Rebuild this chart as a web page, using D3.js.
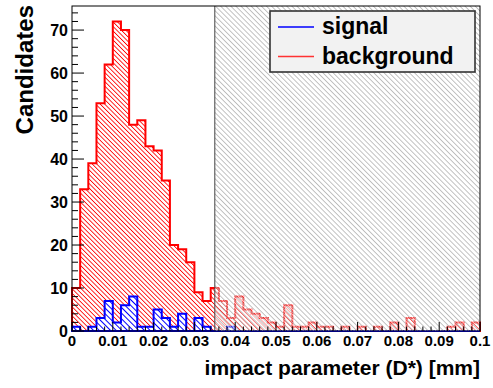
<!DOCTYPE html>
<html><head><meta charset="utf-8">
<script src="https://cdn.jsdelivr.net/npm/d3@7"></script>
<style>body{margin:0;background:#fff}svg{display:block}text{font-family:"Liberation Sans",Arial,sans-serif;font-weight:bold}</style>
</head><body>
<script>
const binWidth = 0.002;
const binStarts = d3.range(50).map(i => +(i * binWidth).toFixed(3));
const background = [10,33,39,53,62,72,70,48,49,43,42,35,20,19,16,9,7,10,7,3,8,5,4,3,2,1,6,1,1,2,1,1,0,1,0,1,0,1,0,2,0,3,0,0,0,0,1,2,0,2];
const signal = [1,0,1,3,7,2,6,8,1,1,5,3,1,4,0,3,1,0,0,1,0,0,0,0,0,0,0,0,0,0,0,0,0,0,0,0,0,0,0,0,0,0,0,0,0,0,0,0,0,0];
const xTicks = [0,0.01,0.02,0.03,0.04,0.05,0.06,0.07,0.08,0.09,0.1];
const xTickLabels = ["0","0.01","0.02","0.03","0.04","0.05","0.06","0.07","0.08","0.09","0.1"];
const yTicks = [0,10,20,30,40,50,60,70];
const cutValue = 0.035;
const legendLabels = ["signal","background"];

const W = 493, H = 388;
const L = 72, R = 480, T = 6, B = 331;
const x = d3.scaleLinear().domain([0, 0.1]).range([L, R]);
const y = d3.scaleLinear().domain([0, 75.6]).range([B, T]);

const svg = d3.select("body").append("svg").attr("width", W).attr("height", H);
const defs = svg.append("defs");
function hatch(id, color, period, lw, bg) {
  const p = defs.append("pattern").attr("id", id).attr("patternUnits", "userSpaceOnUse")
    .attr("width", period).attr("height", period).attr("patternTransform", "rotate(-45)");
  if (bg) p.append("rect").attr("width", period).attr("height", period).attr("fill", bg);
  p.append("rect").attr("x", 0).attr("width", lw).attr("height", period).attr("fill", color);
  return p;
}
hatch("redH", "#ff0000", 3.2, 0.85, null);
hatch("blueH", "#0000ff", 4.0, 1.0, "#ffffff");
const g = hatch("grayH", "#b4b4b4", 3.6, 0.8, null);
g.append("rect").attr("x", 1.7).attr("width", 1.3).attr("height", 3.6).attr("fill", "#ffffff").attr("fill-opacity", 0.8);

function histPath(vals) {
  let d = `M${x(binStarts[0])},${y(0)}`;
  vals.forEach((v, i) => {
    d += `L${x(binStarts[i])},${y(v)}L${x(binStarts[i] + binWidth)},${y(v)}`;
  });
  d += `L${x(0.1)},${y(0)}Z`;
  return d;
}

svg.append("path").attr("d", histPath(background)).attr("fill", "url(#redH)")
  .attr("stroke", "#ff0000").attr("stroke-width", 2).attr("stroke-linejoin", "miter");
svg.append("path").attr("d", histPath(signal)).attr("fill", "url(#blueH)")
  .attr("stroke", "#0000ff").attr("stroke-width", 2);

// cut overlay
svg.append("rect").attr("x", x(cutValue)).attr("y", y.range()[1])
  .attr("width", x(0.1) - x(cutValue)).attr("height", y.range()[0] - y.range()[1])
  .attr("fill", "url(#grayH)");
svg.append("line").attr("x1", x(cutValue)).attr("x2", x(cutValue)).attr("y1", T).attr("y2", B)
  .attr("stroke", "#444").attr("stroke-width", 1);

// frame
svg.append("rect").attr("x", L).attr("y", T).attr("width", R - L).attr("height", B - T)
  .attr("fill", "none").attr("stroke", "#000").attr("stroke-width", 1);

// y axis ticks
const yMinor = d3.range(0, 76, 2);
svg.append("g").selectAll("line").data(yMinor).join("line")
  .attr("x1", L).attr("x2", d => L + (d % 10 === 0 ? 12 : 6))
  .attr("y1", d => y(d)).attr("y2", d => y(d)).attr("stroke", "#000").attr("stroke-width", 1);
svg.append("g").selectAll("text").data(yTicks).join("text")
  .attr("x", 68).attr("y", d => y(d) + 6).attr("text-anchor", "end")
  .attr("font-size", 16).text(d => d);

// x axis ticks
const xMinor = d3.range(0, 51).map(i => i * 0.002);
svg.append("g").selectAll("line").data(xMinor).join("line")
  .attr("x1", d => x(d)).attr("x2", d => x(d))
  .attr("y1", B).attr("y2", (d, i) => B - (i % 5 === 0 ? 9 : 4.5))
  .attr("stroke", "#000").attr("stroke-width", 1);
svg.append("g").selectAll("text").data(xTicks).join("text")
  .attr("x", d => x(d)).attr("y", 346).attr("text-anchor", "middle")
  .attr("font-size", 15).text((d, i) => xTickLabels[i]);

// titles
svg.append("text").attr("transform", "translate(33,5) rotate(-90)").attr("text-anchor", "end")
  .attr("font-size", 24).text("Candidates");
svg.append("text").attr("x", 480).attr("y", 375).attr("text-anchor", "end")
  .attr("font-size", 21).text("impact parameter (D*) [mm]");

// legend
const lg = svg.append("g");
lg.append("rect").attr("x", 270).attr("y", 11).attr("width", 205).attr("height", 61)
  .attr("fill", "#f2f2f2").attr("stroke", "#333").attr("stroke-width", 1.6);
const colors = ["#0000ff", "#ff3333"];
legendLabels.forEach((lab, i) => {
  const yy = 27 + i * 29.5;
  lg.append("line").attr("x1", 278).attr("x2", 314).attr("y1", yy).attr("y2", yy)
    .attr("stroke", colors[i]).attr("stroke-width", 1.6);
  lg.append("text").attr("x", 322).attr("y", yy + 7).attr("font-size", 23).text(lab);
});
</script>
</body></html>
